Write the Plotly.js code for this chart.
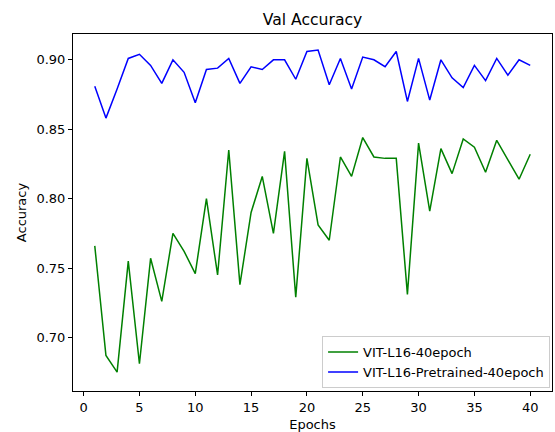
<!DOCTYPE html>
<html>
<head>
<meta charset="utf-8">
<script src="https://cdn.plot.ly/plotly-3.0.1.min.js"></script>
<style>
  html, body { margin: 0; padding: 0; background: #ffffff; }
  #chart { width: 555px; height: 432px; }
</style>
</head>
<body>
<div id="chart"></div>
<script>
// Validation accuracy per epoch for two ViT-L16 training runs
const epochs = Array.from({length: 40}, (_, i) => i + 1);

const vitScratch = [
  0.766, 0.687, 0.675, 0.755, 0.681, 0.757, 0.726, 0.775, 0.762, 0.746,
  0.800, 0.745, 0.835, 0.738, 0.790, 0.816, 0.775, 0.834, 0.729, 0.829,
  0.781, 0.770, 0.830, 0.816, 0.844, 0.830, 0.829, 0.829, 0.731, 0.840,
  0.791, 0.836, 0.818, 0.843, 0.837, 0.819, 0.842, 0.828, 0.814, 0.832
];

const vitPretrained = [
  0.881, 0.858, 0.879, 0.901, 0.904, 0.896, 0.883, 0.900, 0.891, 0.869,
  0.893, 0.894, 0.901, 0.883, 0.895, 0.893, 0.900, 0.900, 0.886, 0.906,
  0.907, 0.882, 0.901, 0.879, 0.902, 0.900, 0.895, 0.906, 0.870, 0.901,
  0.871, 0.900, 0.887, 0.880, 0.896, 0.885, 0.901, 0.889, 0.900, 0.896
];

const seriesNames = ['VIT-L16-40epoch', 'VIT-L16-Pretrained-40epoch'];
const xTicks = [0, 5, 10, 15, 20, 25, 30, 35, 40];
const yTicks = [0.70, 0.75, 0.80, 0.85, 0.90];

const font = 'DejaVu Sans, sans-serif';

const traces = [
  {
    x: epochs, y: vitScratch, name: seriesNames[0],
    type: 'scatter', mode: 'lines',
    line: {color: '#008000', width: 1.5}
  },
  {
    x: epochs, y: vitPretrained, name: seriesNames[1],
    type: 'scatter', mode: 'lines',
    line: {color: '#0000ff', width: 1.5}
  }
];

const axisCommon = {
  showgrid: false, zeroline: false,
  showline: true, linecolor: '#000000', linewidth: 1, mirror: true,
  ticks: 'outside', ticklen: 4, tickwidth: 1, tickcolor: '#000000',
  tickfont: {family: font, size: 13, color: '#000000'}
};

const layout = {
  width: 555, height: 432,
  margin: {l: 73, r: 3, t: 34, b: 41},
  paper_bgcolor: '#ffffff', plot_bgcolor: '#ffffff',
  font: {family: font, color: '#000000'},
  title: {
    text: 'Val Accuracy',
    font: {family: font, size: 15.6, color: '#000000'},
    x: 0.5, xref: 'paper', xanchor: 'center',
    y: 1 - 20 / 432, yref: 'container', yanchor: 'middle'
  },
  xaxis: Object.assign({}, axisCommon, {
    range: [-0.95, 41.95],
    tickmode: 'array', tickvals: xTicks, ticktext: xTicks.map(String),
    title: {text: 'Epochs', font: {family: font, size: 13, color: '#000000'}, standoff: 7}
  }),
  yaxis: Object.assign({}, axisCommon, {
    range: [0.6614, 0.9186],
    tickmode: 'array', tickvals: yTicks, ticktext: yTicks.map(v => v.toFixed(2)),
    title: {text: 'Accuracy', font: {family: font, size: 13, color: '#000000'}, standoff: 6}
  }),
  showlegend: true,
  legend: {
    x: 0.996, y: 0.008, xanchor: 'right', yanchor: 'bottom',
    bgcolor: 'rgba(255,255,255,0.8)', bordercolor: '#cccccc', borderwidth: 1,
    font: {family: font, size: 13, color: '#000000'},
    tracegroupgap: 0
  }
};

Plotly.newPlot('chart', traces, layout, {staticPlot: true, displayModeBar: false});
</script>
</body>
</html>
